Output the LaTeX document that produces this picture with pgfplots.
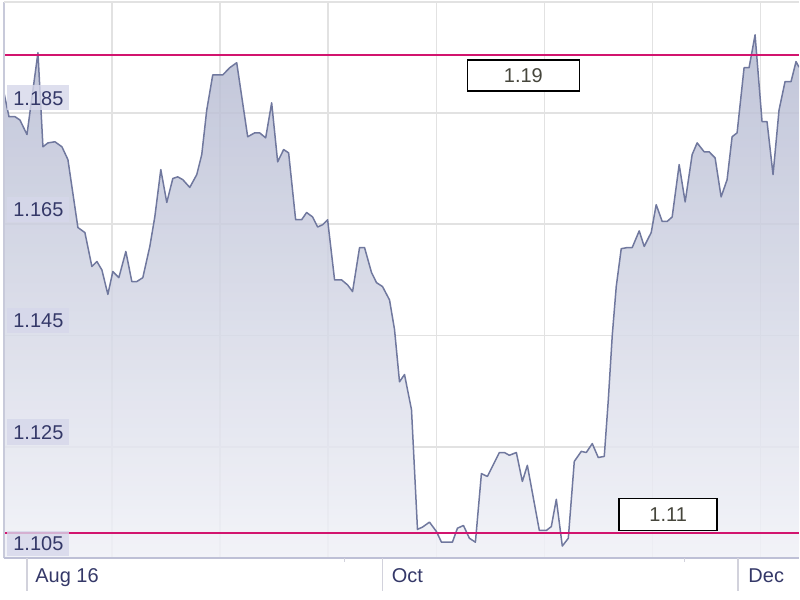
\documentclass[border=0pt]{standalone}
\usepackage{fontspec}
\setmainfont{Liberation Sans}
\usepackage{pgfplots}
\usepackage{pgfplotstable}
\pgfplotsset{compat=1.18}
\definecolor{gridc}{RGB}{226,226,226}
\definecolor{labelc}{RGB}{214,215,234}
\definecolor{textc}{RGB}{52,56,104}
\definecolor{fillTop}{RGB}{182,187,210}
\definecolor{fillBot}{RGB}{240,241,247}
\definecolor{linec}{RGB}{112,120,158}
\definecolor{magc}{RGB}{210,20,110}
\definecolor{botc}{RGB}{190,192,214}
\definecolor{leftc}{RGB}{200,202,218}
\definecolor{tickc}{RGB}{210,210,220}
\definecolor{boxtext}{RGB}{70,70,60}
\tikzset{ylab/.style={anchor=south west, fill=labelc, fill opacity=0.8, text opacity=1, text=textc, inner xsep=3pt, inner ysep=2.7pt, text height=7.2pt, text depth=0pt, font=\fontsize{10}{12}\selectfont}}
\pgfplotstableread{
x y
4 1.1886
9 1.1843
15 1.1843
20 1.1837
27 1.1811
38 1.1958
43 1.1789
48 1.1796
55 1.1798
62 1.1789
68 1.1766
78 1.1644
85 1.1635
92 1.1574
97 1.1583
102 1.1568
108 1.1524
113 1.1565
119 1.1554
126 1.1601
132 1.1547
137 1.1547
143 1.1554
150 1.1610
155 1.1663
161 1.1748
167 1.1689
173 1.1732
178 1.1735
183 1.1730
190 1.1716
197 1.1739
202 1.1775
207 1.1855
213 1.1918
223 1.1918
230 1.1931
237 1.1940
248 1.1807
255 1.1814
260 1.1814
266 1.1805
272 1.1868
278 1.1762
284 1.1784
289 1.1778
296 1.1658
302 1.1658
307 1.1671
313 1.1663
318 1.1645
323 1.1649
328 1.1658
335 1.1550
342 1.1550
348 1.1541
353 1.1529
360 1.1608
365 1.1608
372 1.1563
377 1.1545
383 1.1538
390 1.1514
395 1.1461
400 1.1367
405 1.1380
412 1.1317
418 1.1102
423 1.1106
430 1.1115
437 1.1098
442 1.1079
453 1.1079
458 1.1104
464 1.1109
470 1.1086
476 1.1079
482 1.1202
488 1.1197
500 1.1240
505 1.1240
510 1.1235
517 1.1240
523 1.1188
528 1.1217
540 1.1100
547 1.1100
552 1.1107
557 1.1156
563 1.1072
569 1.1086
575 1.1224
582 1.1242
587 1.1240
593 1.1256
599 1.1231
605 1.1233
609 1.1333
613 1.1450
617 1.1538
622 1.1606
628 1.1608
633 1.1608
640 1.1638
645 1.1610
652 1.1635
657 1.1685
663 1.1655
668 1.1655
673 1.1663
680 1.1757
686 1.1690
693 1.1775
698 1.1796
705 1.1780
710 1.1780
716 1.1769
722 1.1699
728 1.1730
733 1.1807
738 1.1814
745 1.1931
750 1.1931
756 1.1990
763 1.1834
768 1.1834
774 1.1739
780 1.1855
786 1.1906
792 1.1906
797 1.1942
800 1.1932
}\rates
\begin{document}
\begin{tikzpicture}
\begin{axis}[
  at={(2pt,20.5pt)}, anchor=south west,
  scale only axis, width=398pt, height=278.5pt,
  xmin=4, xmax=800, ymin=1.105, ymax=1.2049,
  axis line style={draw=none},
  xtick={112.2,220.4,328.6,436.8,545,653.2,761.4}, xticklabels={},
  ytick={1.105,1.125,1.145,1.165,1.185},
  yticklabels={},
  yticklabel style={anchor=south west, inner sep=0pt},
  xticklabel style={anchor=south, inner sep=0pt},
  grid=major, grid style={gridc, line width=0.75pt},
  major tick length=0pt, tick style={draw=none},
  clip mode=individual,
]
\addplot[draw=none, top color=fillTop, bottom color=fillBot, fill opacity=0.85] table[x=x,y=y] {\rates} -- (axis cs:800,1.105) -- (axis cs:4,1.105) -- cycle;
\addplot[linec, line width=0.75pt, line join=round] table[x=x,y=y] {\rates};
\addplot[magc, line width=1pt] coordinates {(4,1.1954) (800,1.1954)};
\addplot[magc, line width=1pt] coordinates {(4,1.1095) (800,1.1095)};
\node[draw=black, line width=0.75pt, fill=white, minimum width=56pt, minimum height=15.5pt, inner sep=0pt, text=boxtext, font=\fontsize{10}{12}\selectfont] at (axis cs:524,1.1917) {1.19};
\node[draw=black, line width=0.75pt, fill=white, minimum width=49pt, minimum height=16pt, inner sep=0pt, text=boxtext, font=\fontsize{10}{12}\selectfont] at (axis cs:669,1.1129) {1.11};
\draw[leftc, line width=0.75pt] (axis cs:4,1.105) -- (axis cs:4,1.2049);
\draw[gridc, line width=0.75pt] (axis cs:4,1.2049) -- (axis cs:800,1.2049);
\draw[botc, line width=1pt] (axis cs:4,1.105) -- (axis cs:800,1.105);
\node[ylab] at ([xshift=1.5pt,yshift=1pt]axis cs:4,1.105) {1.105};
\node[ylab] at ([xshift=1.5pt,yshift=1pt]axis cs:4,1.125) {1.125};
\node[ylab] at ([xshift=1.5pt,yshift=1pt]axis cs:4,1.145) {1.145};
\node[ylab] at ([xshift=1.5pt,yshift=1pt]axis cs:4,1.165) {1.165};
\node[ylab] at ([xshift=1.5pt,yshift=1pt]axis cs:4,1.185) {1.185};
\draw[tickc, line width=0.6pt] (axis cs:27,1.105) -- ([yshift=-16.5pt]axis cs:27,1.105);
\draw[tickc, line width=0.6pt] (axis cs:383,1.105) -- ([yshift=-16.5pt]axis cs:383,1.105);
\draw[tickc, line width=0.6pt] (axis cs:739,1.105) -- ([yshift=-16.5pt]axis cs:739,1.105);
\draw[tickc, line width=0.6pt] (axis cs:345,1.105) -- ([yshift=-2pt]axis cs:345,1.105);
\draw[tickc, line width=0.6pt] (axis cs:685,1.105) -- ([yshift=-2pt]axis cs:685,1.105);
\node[anchor=base west, text=textc, inner sep=0pt, font=\fontsize{10}{12}\selectfont] at ([xshift=4pt,yshift=-12pt]axis cs:27,1.105) {Aug 16};
\node[anchor=base west, text=textc, inner sep=0pt, font=\fontsize{10}{12}\selectfont] at ([xshift=4.5pt,yshift=-12pt]axis cs:383,1.105) {Oct};
\node[anchor=base west, text=textc, inner sep=0pt, font=\fontsize{10}{12}\selectfont] at ([xshift=5pt,yshift=-12pt]axis cs:739,1.105) {Dec};
\end{axis}
\path (0,0) rectangle (400pt,300pt);
\end{tikzpicture}
\end{document}
